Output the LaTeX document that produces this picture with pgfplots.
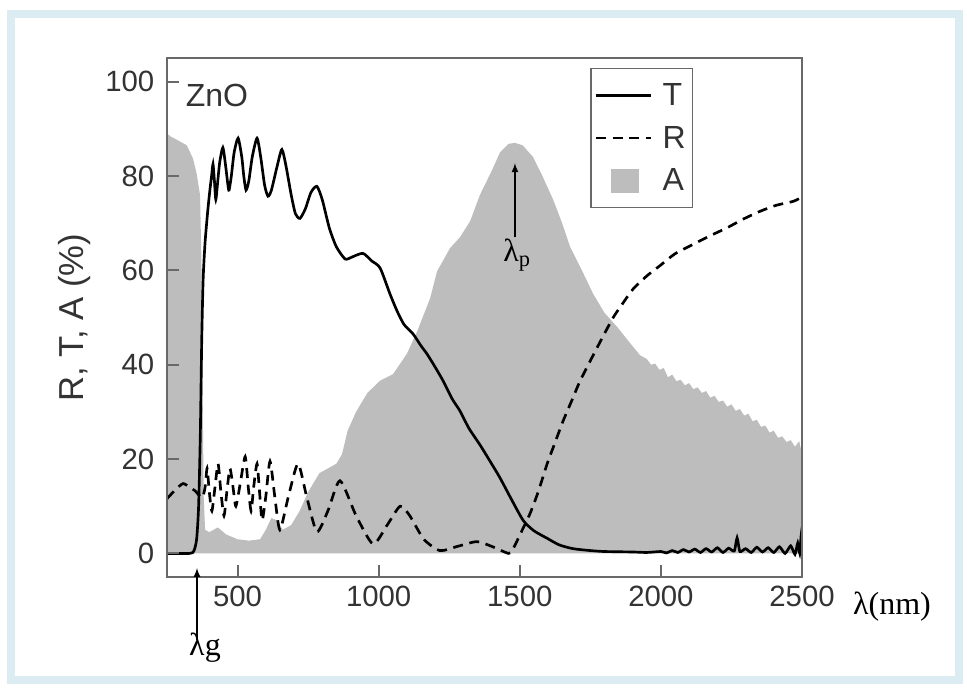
\documentclass[border=0pt]{standalone}
\usepackage{pgfplots}
\pgfplotsset{compat=1.18}
\usepackage{fontspec}
\setmainfont{Liberation Sans}
\newfontfamily\serif{Liberation Serif}
\definecolor{fillA}{RGB}{189,189,189}
\definecolor{frameblue}{RGB}{219,237,243}
\definecolor{axgray}{RGB}{105,105,105}
\begin{document}
\begin{tikzpicture}[x=0.75pt,y=0.75pt]
\fill[white] (0,0) rectangle (967,691);
\draw[frameblue, line width=6pt] (11,11) rectangle (959,677);
\begin{axis}[
 at={(125.25pt,85.5pt)}, anchor=south west,
 scale only axis, width=476.25pt, height=389.25pt,
 xmin=250, xmax=2500, ymin=-5, ymax=105,
 xtick={500,1000,1500,2000,2500}, ytick={0,20,40,60,80,100},
 xtick pos=bottom, ytick pos=left, tick align=inside,
 major tick length=9pt,
 axis on top,
 scaled x ticks=false,
 axis line style={axgray, line width=1.5pt},
 every tick/.style={axgray, line width=1.5pt},
 tick label style={font=\fontsize{22}{24}\selectfont, text=black!80},
 yticklabel style={xshift=-6pt},
 xticklabel style={yshift=-3pt},
 /pgf/number format/assume math mode=true,
 /pgf/number format/1000 sep={},
 ylabel={R, T, A (\%)},
 ylabel style={font=\fontsize{26}{28}\selectfont, text=black!80, at={(axis description cs:-0.145,0.5)}, anchor=center},
 legend style={at={(axis description cs:0.666,0.981)}, anchor=north west, draw=axgray, line width=1.2pt,
   font=\fontsize{24}{26}\selectfont, text=black!80, row sep=10pt, inner xsep=3pt, inner ysep=9pt, cells={anchor=west}},
 legend image code/.code={\draw[#1] (0pt,0pt) -- (41pt,0pt); \path[draw=none,fill=none] (0pt,0pt) -- (48pt,0pt);},
]
% A (absorption) filled area
\addplot[fill=fillA, draw=none, forget plot] table {
x y
250 89
262 88.4
290 87.5
320 86.5
342 83.7
355 80.5
367 76
372 62
376 35
380 12
385 5
400 4.5
430 5.5
460 4
500 3
540 2.7
580 3
600 5
620 7.5
640 7
660 5
690 6
720 9
750 13
790 17
850 19
870 21
890 26
920 30
960 34
1005 36.6
1051 38
1100 42.3
1136 47
1182 54
1207 59.8
1253 64.7
1288 67
1324 70.4
1359 76
1400 81
1430 85
1460 86.8
1483 87
1510 86.5
1547 84
1580 80
1618 75
1650 70
1678 65
1720 60
1760 55
1800 51
1845 48
1885 45
1926 42
1950 41.2
1965 40.0
1980 40.2
1995 38.9
2010 39.3
2025 37.3
2040 37.9
2055 36.5
2070 36.8
2085 35.6
2100 36.1
2115 34.8
2130 35.2
2145 34.0
2160 34.4
2175 33.0
2190 33.4
2205 32.1
2220 32.4
2235 31.1
2250 31.6
2265 30.2
2280 30.6
2295 29.2
2310 29.6
2325 28.0
2340 28.3
2355 26.8
2370 27.1
2385 25.6
2400 26.0
2415 24.5
2430 24.8
2445 23.6
2460 24.0
2475 22.6
2490 23.8
2500 21.0
} \closedcycle;
% T
\addplot[black, line width=2pt, smooth, tension=0.4] table {
x y
250 0
330 0
345 0.5
355 3
362 10
368 25
373 45
378 58
385 66
395 73
402 77
408 80
413 82.5
418 79
423 75
430 79
437 83
448 86
458 82
466 78
470 77
478 80
488 85
502 88
515 84
522 80
530 77
540 79
552 84
569 88
582 84
596 78
608 75.7
620 77
640 82
657 85.6
672 82
690 76
705 72
721 71
740 73
760 76.5
781 77.8
800 75
825 69
850 65
881 62.4
905 62.8
944 63.6
975 62
1005 60.5
1040 55
1065 51.4
1090 48.5
1122 46.5
1150 44
1171 42.3
1200 39.5
1228 36.6
1260 32.8
1288 30.2
1320 26.5
1359 23
1395 19.5
1430 16
1470 11.5
1512 7
1550 4.8
1597 3.2
1640 1.8
1689 1
1750 0.6
1800 0.4
1900 0.3
1950 0.2
2000 0.4
2020 0.1
2040 0.6
2060 0.2
2080 0.8
2100 0.3
2120 0.9
2140 0.2
2160 1.0
2180 0.3
2200 1.2
2220 0.2
2240 1.1
2260 0.5
2270 3.3
2280 0.4
2300 1.0
2320 0.2
2340 1.3
2360 0.3
2380 1.2
2400 0.2
2420 1.4
2440 0.0
2460 1.6
2475 -0.2
2485 2.2
2492 0.0
2497 3.8
2500 1.5
};
\addlegendentry{T}
% R
\addplot[black, line width=2pt, dash pattern=on 7.5pt off 5pt, smooth, tension=0.4] table {
x y
250 11.6
280 13.5
307 14.8
330 14
349 13.3
374 11.8
385 14
392 18
400 13
409 9
420 14
431 19
441 13
452 8
462 13
473 18
484 14
494 10
510 15
527 20.5
538 14
548 9
557 14
569 19
578 13
587 7
600 12
615 19.5
632 12
650 5
680 12
714 19
745 12
781 4.6
820 9
863 15.4
920 8
980 2
1030 6
1076 10
1110 8
1160 3
1217 0.6
1280 1.5
1348 2.5
1400 1.5
1460 0
1475 0.8
1505 4.5
1536 8.4
1565 13
1597 19
1625 23.5
1653 28
1685 32.5
1714 36.6
1760 42
1795 46
1831 50
1865 53
1901 56
1950 58.8
1997 61
2050 63.5
2114 65.5
2170 67.2
2234 69
2290 70.8
2351 72.5
2410 73.8
2468 74.6
2500 75.5
};
\addlegendentry{R}
\addlegendimage{legend image code/.code={\fill[fillA, draw=none] (11pt,-9pt) rectangle (32pt,9pt); \path[draw=none,fill=none] (0pt,0pt) -- (48pt,0pt);}}
\addlegendentry{A}
\draw[-latex, black, line width=1.3pt] (axis cs:1483,67) -- (axis cs:1483,82.7);
\end{axis}
\node[font=\fontsize{24}{26}\selectfont, text=black!80] at (217,596) {ZnO};
\node[font=\serif\fontsize{24}{26}\selectfont] at (517,436) {λ\textsubscript{p}};
\draw[-latex, black, line width=1.3pt] (197,51) -- (197,123);
\node[font=\serif\fontsize{24}{26}\selectfont] at (205,43) {λg};
\node[font=\serif\fontsize{24}{26}\selectfont] at (892,84) {λ(nm)};
\end{tikzpicture}
\end{document}
